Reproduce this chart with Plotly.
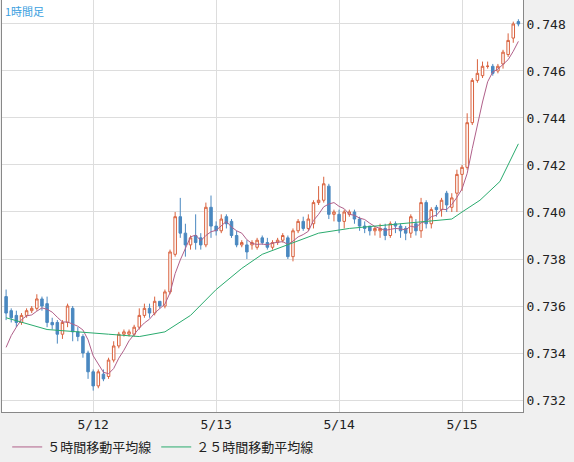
import pandas as pd
import plotly.graph_objects as go

start = pd.Timestamp("2021-05-11 07:00")

opens = [
    .7364, .7358, .7356, .7353, .7356, .7358, .7359, .7363, .7361, .7353,
    .7353, .7348, .7353, .7359, .7349, .7347, .7340, .7332, .7326, .7331,
    .7330, .7337, .7343, .7348, .7348, .7348, .7351, .7356, .7359, .7357,
    .7362, .7360, .7366, .7382, .7398, .7391, .7386, .7390, .7389, .7386,
    .7402, .7394, .7392, .7398, .7396, .7390, .7386, .7386, .7386, .7385,
    .7389, .7387, .7385, .7387, .7388, .7389, .7381, .7392, .7396, .7393,
    .7395, .7404, .7405, .7411, .7399, .7399, .7396, .7399, .7400, .7397,
    .7394, .7394, .7392, .7392, .7393, .7390, .7395, .7394, .7393, .7391,
    .7395, .7392, .7404, .7395, .7402, .7401, .7408, .7402, .7408, .7416,
    .7419, .7438, .7456, .7458, .7462, .7462, .7460, .7463, .7467, .7474,
    .7481,
]
closes = [
    .7357, .7355, .7353, .7356, .7358, .7359, .7363, .7360, .7353, .7352,
    .7348, .7353, .7360, .7349, .7347, .7340, .7332, .7326, .7332, .7329,
    .7337, .7343, .7348, .7349, .7349, .7351, .7356, .7359, .7357, .7362,
    .7360, .7366, .7383, .7398, .7391, .7386, .7389, .7387, .7386, .7402,
    .7394, .7392, .7397, .7395, .7390, .7386, .7387, .7383, .7387, .7388,
    .7387, .7385, .7387, .7388, .7390, .7381, .7392, .7396, .7393, .7397,
    .7404, .7405, .7412, .7399, .7400, .7396, .7400, .7400, .7397, .7394,
    .7393, .7392, .7393, .7393, .7390, .7395, .7394, .7392, .7391, .7398,
    .7392, .7404, .7395, .7401, .7401, .7405, .7403, .7406, .7416, .7419,
    .7438, .7456, .7459, .7462, .7462, .7459, .7462, .7468, .7473, .7480,
    .7480,
]
highs = [
    .7367, .7359, .7358, .7357, .7359, .7360, .7365, .7364, .7364, .7355,
    .7354, .7354, .7361, .7360, .7351, .7348, .7341, .7333, .7333, .7333,
    .7338, .7345, .7349, .7350, .7350, .7352, .7359, .7361, .7361, .7364,
    .7362, .7367, .7384, .7400, .7406, .7395, .7390, .7399, .7391, .7404,
    .7407, .7396, .7399, .7399, .7397, .7392, .7388, .7388, .7388, .7389,
    .7390, .7389, .7388, .7389, .7391, .7390, .7393, .7397, .7398, .7399,
    .7405, .7411, .7415, .7412, .7401, .7401, .7401, .7401, .7401, .7398,
    .7396, .7394, .7394, .7395, .7395, .7396, .7396, .7395, .7394, .7399,
    .7397, .7406, .7405, .7402, .7403, .7406, .7409, .7408, .7418, .7420,
    .7442, .7457, .7465, .7464, .7464, .7463, .7463, .7469, .7476, .7481,
    .7482,
]
lows = [
    .7354, .7353, .7351, .7352, .7355, .7357, .7358, .7358, .7351, .7350,
    .7344, .7346, .7351, .7345, .7345, .7338, .7329, .7324, .7325, .7328,
    .7329, .7336, .7342, .7347, .7347, .7347, .7350, .7355, .7355, .7356,
    .7359, .7359, .7365, .7381, .7389, .7381, .7384, .7384, .7384, .7385,
    .7389, .7390, .7391, .7393, .7389, .7385, .7385, .7380, .7384, .7384,
    .7386, .7384, .7384, .7386, .7387, .7380, .7379, .7391, .7392, .7392,
    .7393, .7403, .7404, .7397, .7396, .7391, .7393, .7398, .7395, .7392,
    .7391, .7390, .7390, .7389, .7388, .7389, .7391, .7389, .7388, .7389,
    .7390, .7389, .7393, .7393, .7398, .7398, .7400, .7400, .7400, .7409,
    .7418, .7437, .7455, .7457, .7461, .7458, .7459, .7461, .7466, .7472,
    .7479,
]
# closes before the first visible candle, used for the 5h average
pre_closes = [.7330, .7335, .7340, .7350]

# 25h average (hours after start, value)
ma25_hours = [0, 5, 8, 20, 26, 31, 36, 41, 46, 50, 55, 61, 67, 81, 87, 89, 92.5, 96.4, 100]
ma25_vals = [.7355, .7352, .7350, .7348, .7347, .7349, .7356, .7367, .7376, .7382,
             .7386, .7391, .7393, .7396, .7397, .7400, .7405, .7413, .7429]

ticks_y = [0.732, 0.734, 0.736, 0.738, 0.740, 0.742, 0.744, 0.746, 0.748]
ticks_x = ["2021-05-12", "2021-05-13", "2021-05-14", "2021-05-15"]
ticks_x_text = ["5/12", "5/13", "5/14", "5/15"]

times = pd.date_range(start, periods=len(closes), freq="h")
ma5 = pd.Series(pre_closes + closes).rolling(5).mean().iloc[len(pre_closes):].values
ma25_t = [start + pd.Timedelta(hours=h) for h in ma25_hours]

fig = go.Figure()
fig.add_trace(go.Candlestick(
    x=times, open=opens, high=highs, low=lows, close=closes,
    increasing=dict(line=dict(color="#d9623e", width=1), fillcolor="#ffffff"),
    decreasing=dict(line=dict(color="#4a88c0", width=1), fillcolor="#4a88c0"),
    whiskerwidth=0, showlegend=False, hoverinfo="skip",
))
fig.add_trace(go.Scatter(
    x=times, y=ma5, mode="lines", line=dict(color="#b0608a", width=1),
    name="５時間移動平均線",
))
fig.add_trace(go.Scatter(
    x=ma25_t, y=ma25_vals, mode="lines", line=dict(color="#2aab6e", width=1),
    name="２５時間移動平均線",
))

mono = "DejaVu Sans Mono, Noto Sans CJK JP"
fig.update_layout(
    width=574, height=462,
    margin=dict(l=2, r=51, t=0, b=49),
    paper_bgcolor="#f0f0f0", plot_bgcolor="#ffffff",
    font=dict(family=mono, size=13, color="#222222"),
    xaxis=dict(
        range=[start - pd.Timedelta(minutes=48), start + pd.Timedelta(minutes=6054)],
        tickvals=ticks_x, ticktext=ticks_x_text, showgrid=True,
        gridcolor="#dddddd", rangeslider=dict(visible=False), automargin=False,
        showline=True, linecolor="#888888", mirror=True, ticks="", ticklen=0,
    ),
    yaxis=dict(
        side="right", range=[0.73149, 0.74902], tickvals=ticks_y,
        tickformat=".3f", gridcolor="#dddddd", showline=True, automargin=False,
        linecolor="#888888", mirror=True, ticks="",
    ),
    legend=dict(
        orientation="h", x=0.01, y=-0.085, yanchor="middle",
        bgcolor="rgba(0,0,0,0)", font=dict(size=13, family="Noto Sans CJK JP"),
    ),
    annotations=[dict(
        text="1時間足", xref="paper", yref="paper", x=0.002, y=0.998,
        xanchor="left", yanchor="top", showarrow=False,
        font=dict(size=11, color="#3aa0e0", family="Noto Sans CJK JP"),
    )],
)

fig.write_html("out.html", config={"displayModeBar": False})

# drop the browser's default page margin so the chart sits at the corner
with open("out.html", encoding="utf-8") as f:
    html = f.read()
html = html.replace("<body>", '<body style="margin:0">', 1)
with open("out.html", "w", encoding="utf-8") as f:
    f.write(html)
